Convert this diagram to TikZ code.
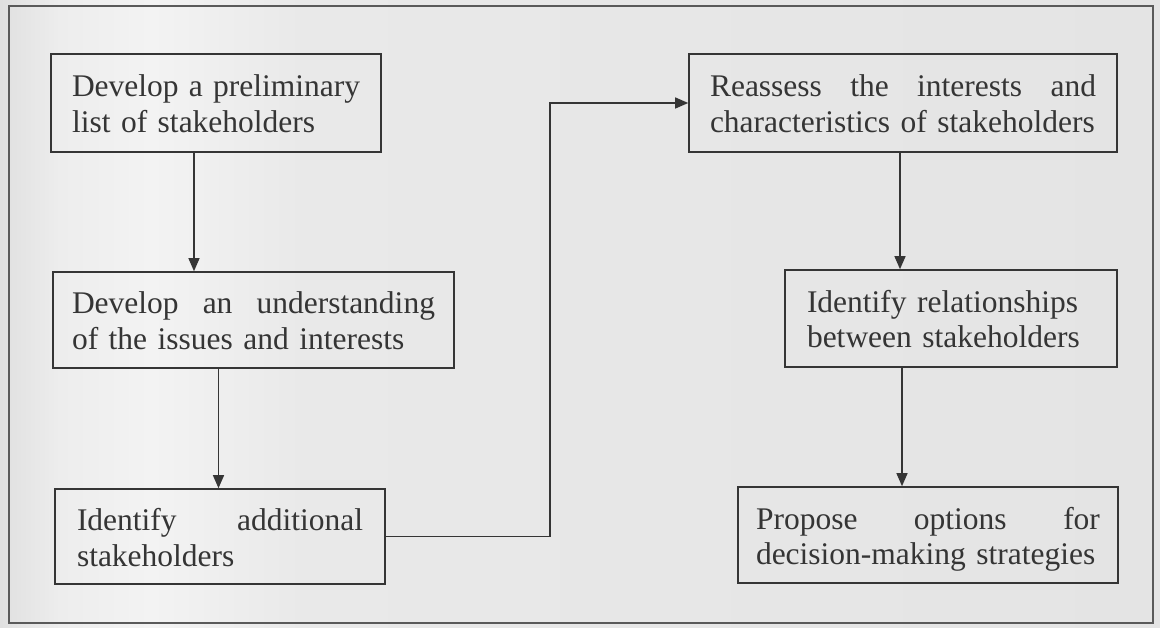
\documentclass[tikz,border=0pt]{standalone}
\usepackage{fontspec}
\setmainfont{Liberation Serif}
\usetikzlibrary{arrows.meta}
\definecolor{bgA}{HTML}{E0E0E0}
\definecolor{bgB}{HTML}{EDEDED}
\definecolor{bgC}{HTML}{F3F3F3}
\definecolor{bgD}{HTML}{E9E9E9}
\definecolor{bgE}{HTML}{E4E4E4}
\definecolor{ink}{HTML}{353535}
\definecolor{framecol}{HTML}{5A5A5A}
\pgfdeclarehorizontalshading{scanbg}{100bp}{color(0bp)=(bgA); color(25bp)=(bgA); color(27.6bp)=(bgB); color(31.5bp)=(bgC); color(38bp)=(bgD); color(75bp)=(bgE); color(100bp)=(bgE)}
\tikzset{
  stepbox/.style={draw=ink, line width=1.6pt, rectangle, inner ysep=0pt,
    text=ink, align=left, font=\fontsize{31.5}{35.5}\selectfont,
    text height=22pt, text depth=34pt},
  arr/.style={draw=ink, line width=1.3pt,
    -{Triangle[length=13pt,width=11pt]}},
}
\hyphenpenalty=10000
\exhyphenpenalty=10000
\begin{document}
\begin{tikzpicture}[x=1pt,y=-1pt]
\useasboundingbox (0,0) rectangle (1160,628);
\fill[shading=scanbg] (0,0) rectangle (1160,628);
\draw[framecol, line width=1.4pt] (9,6) rectangle (1153,623);

\node[stepbox, minimum width=330pt, minimum height=98pt, inner xsep=21pt, text width=288pt] (b1) at (216,103)
  {Develop\hfill a\hfill preliminary\\list of stakeholders};
\node[stepbox, minimum width=401pt, minimum height=96pt, inner xsep=19pt, text width=363pt] (b2) at (253.5,320)
  {Develop\hfill an\hfill understanding\\of the issues and interests};
\node[stepbox, minimum width=330pt, minimum height=95pt, inner xsep=22pt, text width=286pt] (b3) at (220,536.5)
  {Identify\hfill additional\\stakeholders};
\node[stepbox, minimum width=428pt, minimum height=98pt, inner xsep=21pt, text width=386pt] (b4) at (903,103)
  {Reassess\hfill the\hfill interests\hfill and\\characteristics of stakeholders};
\node[stepbox, minimum width=332pt, minimum height=97pt, inner xsep=22pt, text width=288pt] (b5) at (951,318.5)
  {Identify relationships\\between stakeholders};
\node[stepbox, minimum width=380pt, minimum height=96pt, inner xsep=18pt, text width=344pt] (b6) at (928,535)
  {Propose\hfill options\hfill for\\\mbox{decision-making strategies}};

\coordinate (turn) at (550,300);
\coordinate (xa) at (194,0);
\coordinate (xb) at (218.5,0);
\coordinate (xc) at (900,0);
\coordinate (xd) at (902,0);
\draw[arr] (b1.south -| xa) -- (b2.north -| xa);
\draw[arr] (b2.south -| xb) -- (b3.north -| xb);
\draw[arr] (b3.east) -| (turn) |- (b4.west);
\draw[arr] (b4.south -| xc) -- (b5.north -| xc);
\draw[arr] (b5.south -| xd) -- (b6.north -| xd);
\end{tikzpicture}
\end{document}
